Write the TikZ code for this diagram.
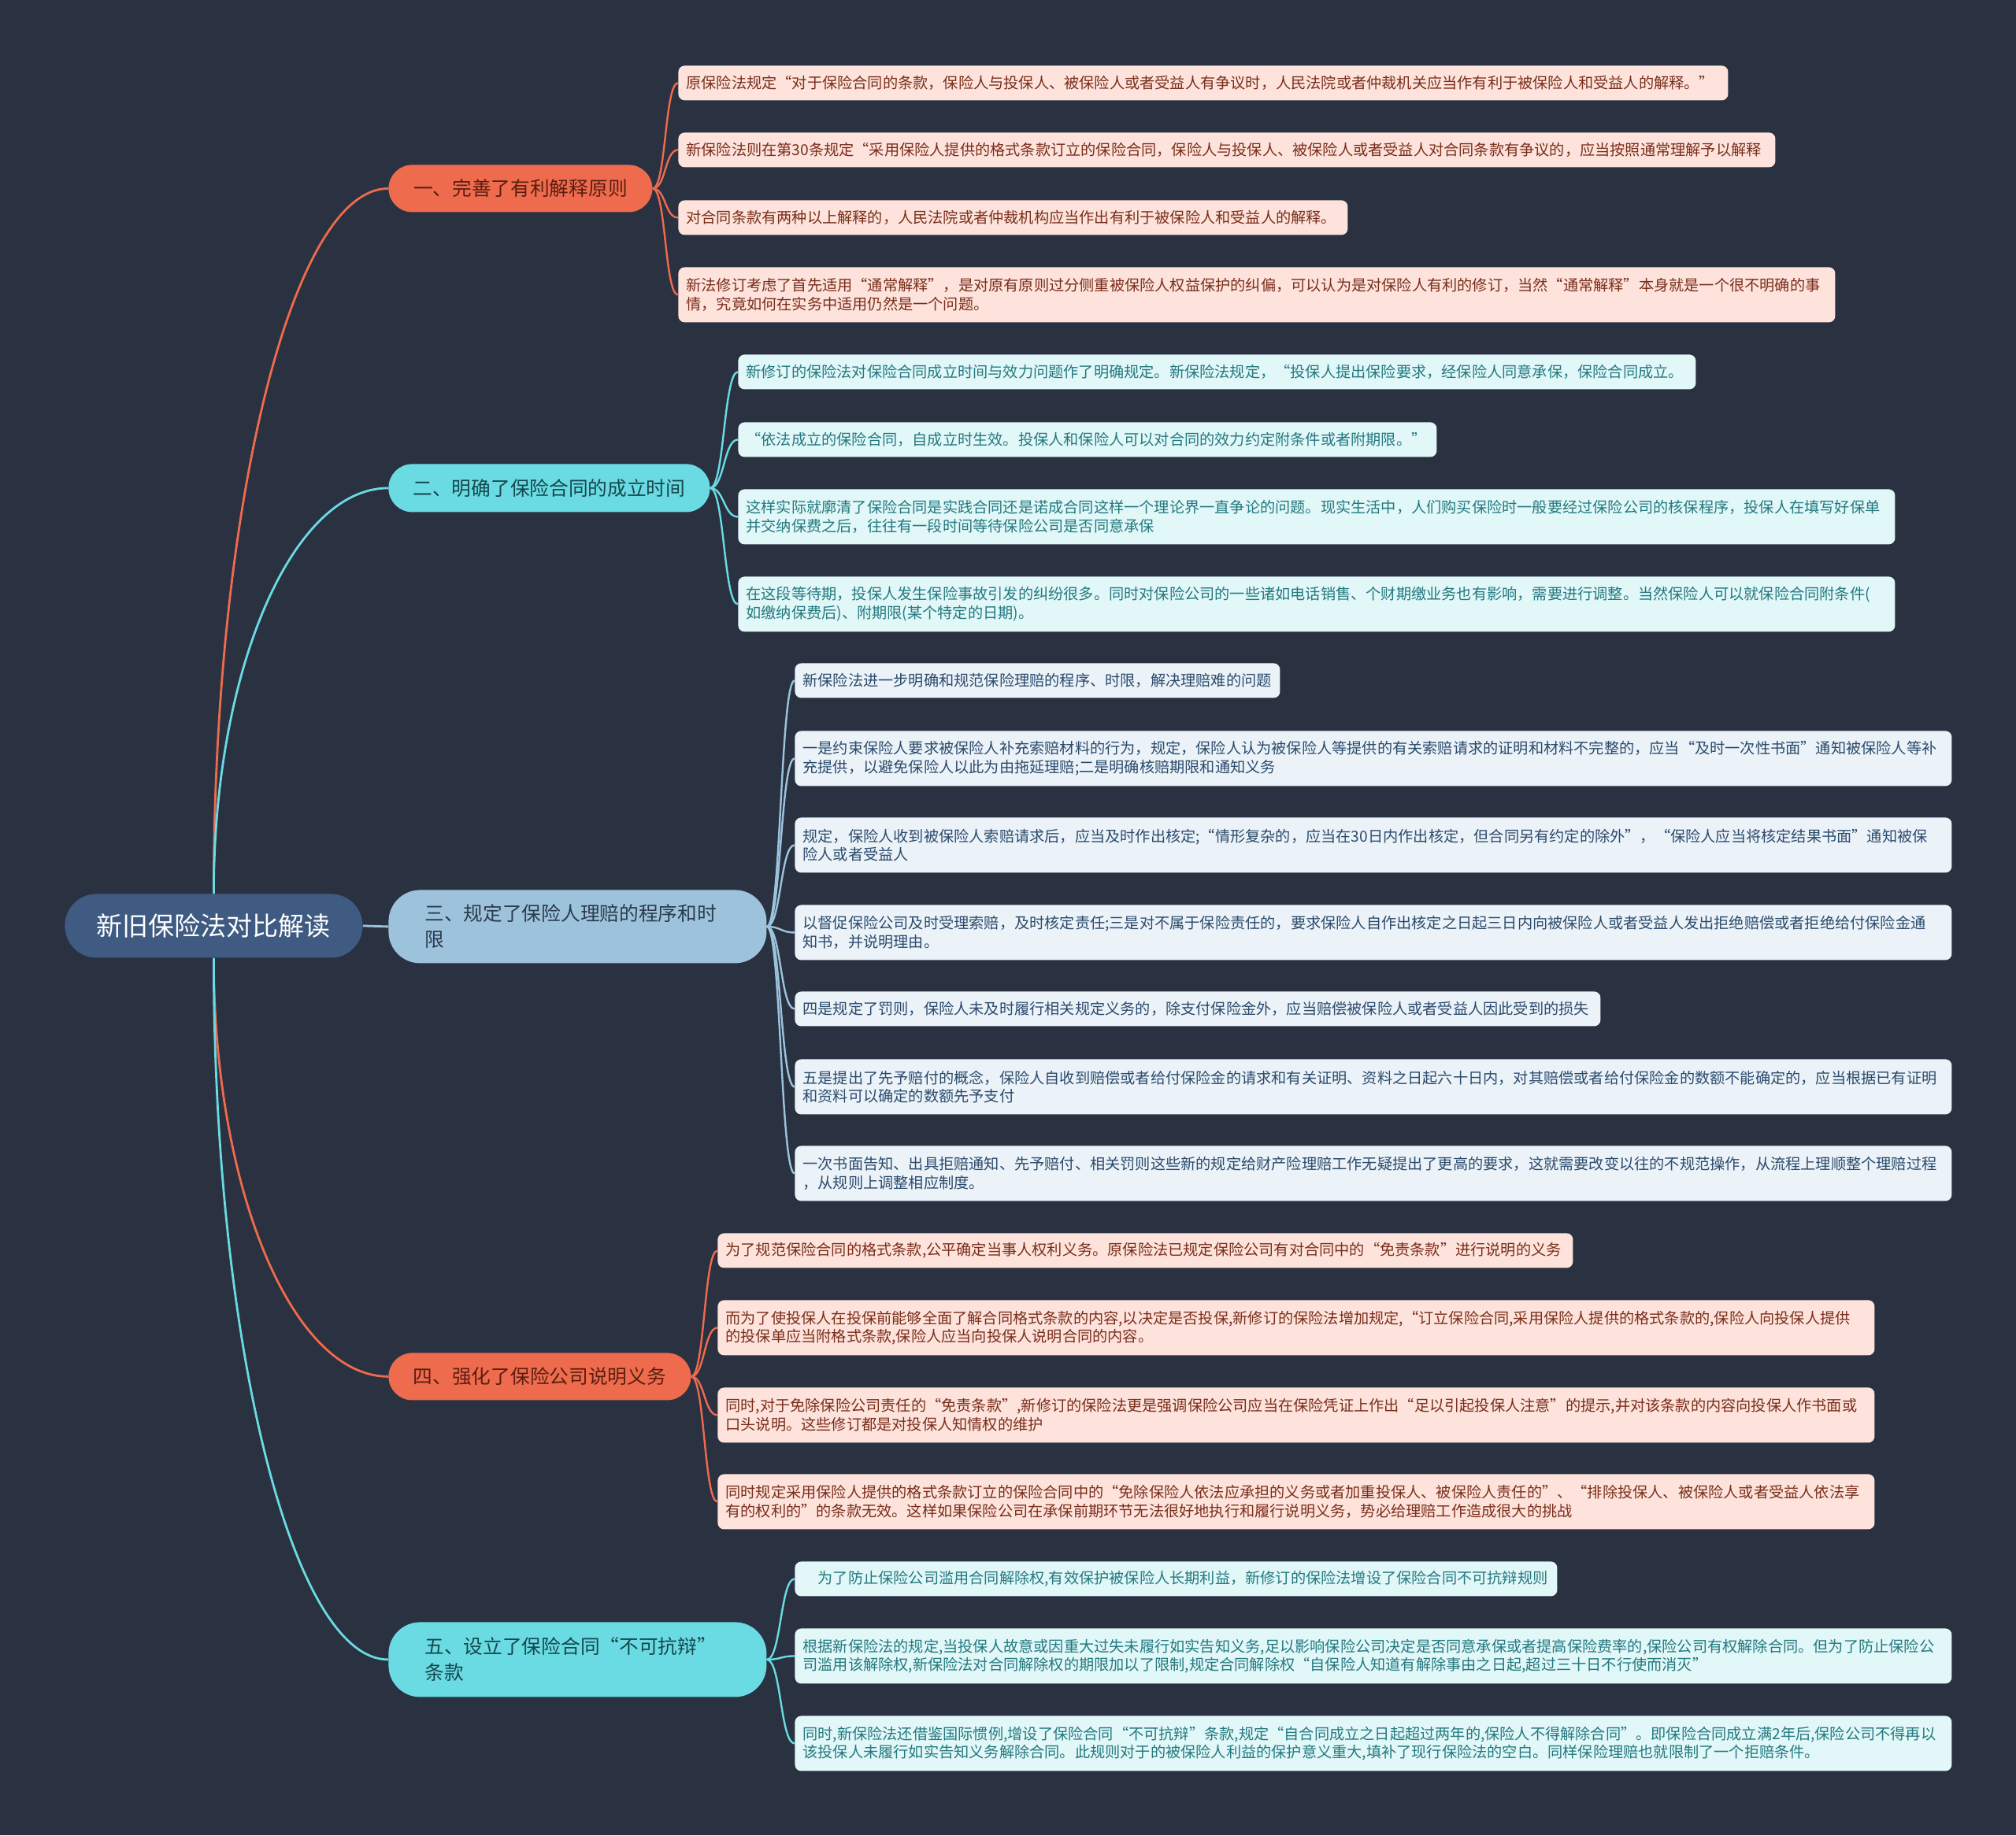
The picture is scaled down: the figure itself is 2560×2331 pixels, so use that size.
\documentclass[tikz,border=0pt]{standalone}
\usepackage{fontspec}
\setmainfont{Noto Sans CJK SC}
\definecolor{bgc}{HTML}{2A3141}
\definecolor{rootc}{HTML}{3F5B82}
\definecolor{orgc}{HTML}{EE6B4D}
\definecolor{cyac}{HTML}{6ADBE2}
\definecolor{bluc}{HTML}{9DC3DC}
\definecolor{pinkf}{HTML}{FDE3DB}
\definecolor{pinkt}{HTML}{7A2D1B}
\definecolor{cyaf}{HTML}{E1F7F8}
\definecolor{cyat}{HTML}{23797F}
\definecolor{bluf}{HTML}{EBF3F9}
\definecolor{blut}{HTML}{2B4A6B}
\definecolor{orgt}{HTML}{5A1E10}
\definecolor{cyamt}{HTML}{16484E}
\definecolor{blumt}{HTML}{2A3B4C}
\begin{document}
\begin{tikzpicture}[x=0.5pt,y=-0.5pt,
  rootbox/.style={anchor=north west, fill=rootc, text=white, rounded corners=20pt,
    minimum width=189pt, minimum height=40.5pt, inner sep=0pt,
    font=\fontsize{16.5pt}{20pt}\selectfont},
  mainbox/.style={anchor=north west, rounded corners=15pt, inner sep=0pt,
    font=\fontsize{12.35pt}{16.5pt}\selectfont},
  mainbig/.style={anchor=north west, rounded corners=20pt, inner xsep=23pt, inner ysep=0pt,
    align=left, text width=194pt, minimum width=240pt,
    font=\fontsize{12.35pt}{16.5pt}\selectfont},
  leafbox/.style={anchor=north west, rounded corners=4pt, inner xsep=5pt, inner ysep=2pt,
    align=left, minimum height=22pt, font=\fontsize{9.6pt}{11.75pt}\selectfont},
  twol/.style={minimum height=35pt, text width=724.5pt},
  pinkleaf/.style={leafbox, fill=pinkf, text=pinkt},
  cyaleaf/.style={leafbox, fill=cyaf, text=cyat},
  bluleaf/.style={leafbox, fill=bluf, text=blut},
  conO/.style={draw=orgc, line width=1.4pt},
  conC/.style={draw=cyac, line width=1.4pt},
  conB/.style={draw=bluc, line width=1.4pt},
  subO/.style={draw=orgc, line width=1.2pt},
  subC/.style={draw=cyac, line width=1.2pt},
  subB/.style={draw=bluc, line width=1.2pt}
]
\fill[bgc] (0,0) rectangle (2560,2331);

% root
\node[rootbox] (root) at (82,1135) {新旧保险法对比解读};

% main nodes
\node[mainbox, fill=orgc, text=orgt, minimum width=167.5pt, minimum height=30pt] (m1) at (493,209) {一、完善了有利解释原则};
\node[mainbox, fill=cyac, text=cyamt, minimum width=204pt, minimum height=30.5pt] (m2) at (493,589) {二、明确了保险合同的成立时间};
\node[mainbig, fill=bluc, text=blumt, minimum height=46.5pt] (m3) at (493,1130) {三、规定了保险人理赔的程序和时\\限};
\node[mainbox, fill=orgc, text=orgt, minimum width=192pt, minimum height=30pt] (m4) at (493,1718) {四、强化了保险公司说明义务};
\node[mainbig, fill=cyac, text=cyamt, minimum height=47.5pt] (m5) at (493,2060) {五、设立了保险合同“不可抗辩”\\条款};

% section 1 leaves
\node[pinkleaf, text width=656.5pt] (l1a) at (861,83) {原保险法规定“对于保险合同的条款，保险人与投保人、被保险人或者受益人有争议时，人民法院或者仲裁机关应当作有利于被保险人和受益人的解释。”};
\node[pinkleaf, text width=686.5pt] (l1b) at (861,168) {新保险法则在第30条规定“采用保险人提供的格式条款订立的保险合同，保险人与投保人、被保险人或者受益人对合同条款有争议的，应当按照通常理解予以解释};
\node[pinkleaf, text width=415pt] (l1c) at (861,254) {对合同条款有两种以上解释的，人民法院或者仲裁机构应当作出有利于被保险人和受益人的解释。};
\node[pinkleaf, twol] (l1d) at (861,339) {新法修订考虑了首先适用“通常解释”，是对原有原则过分侧重被保险人权益保护的纠偏，可以认为是对保险人有利的修订，当然“通常解释”本身就是一个很不明确的事\\情，究竟如何在实务中适用仍然是一个问题。};

% section 2 leaves
\node[cyaleaf, text width=598pt] (l2a) at (937,450) {新修订的保险法对保险合同成立时间与效力问题作了明确规定。新保险法规定，“投保人提出保险要求，经保险人同意承保，保险合同成立。};
\node[cyaleaf, text width=433.5pt] (l2b) at (937,536) {“依法成立的保险合同，自成立时生效。投保人和保险人可以对合同的效力约定附条件或者附期限。”};
\node[cyaleaf, twol] (l2c) at (937,621) {这样实际就廓清了保险合同是实践合同还是诺成合同这样一个理论界一直争论的问题。现实生活中，人们购买保险时一般要经过保险公司的核保程序，投保人在填写好保单\\并交纳保费之后，往往有一段时间等待保险公司是否同意承保};
\node[cyaleaf, twol] (l2d) at (937,732) {在这段等待期，投保人发生保险事故引发的纠纷很多。同时对保险公司的一些诸如电话销售、个财期缴业务也有影响，需要进行调整。当然保险人可以就保险合同附条件(\\如缴纳保费后)、附期限(某个特定的日期)。};

% section 3 leaves
\node[bluleaf, text width=298pt] (l3a) at (1009,842) {新保险法进一步明确和规范保险理赔的程序、时限，解决理赔难的问题};
\node[bluleaf, twol] (l3b) at (1009,928) {一是约束保险人要求被保险人补充索赔材料的行为，规定，保险人认为被保险人等提供的有关索赔请求的证明和材料不完整的，应当“及时一次性书面”通知被保险人等补\\充提供，以避免保险人以此为由拖延理赔;二是明确核赔期限和通知义务};
\node[bluleaf, twol] (l3c) at (1009,1038) {规定，保险人收到被保险人索赔请求后，应当及时作出核定;“情形复杂的，应当在30日内作出核定，但合同另有约定的除外”，“保险人应当将核定结果书面”通知被保\\险人或者受益人};
\node[bluleaf, twol] (l3d) at (1009,1149) {以督促保险公司及时受理索赔，及时核定责任;三是对不属于保险责任的，要求保险人自作出核定之日起三日内向被保险人或者受益人发出拒绝赔偿或者拒绝给付保险金通\\知书，并说明理由。};
\node[bluleaf, text width=501.5pt] (l3e) at (1009,1259) {四是规定了罚则，保险人未及时履行相关规定义务的，除支付保险金外，应当赔偿被保险人或者受益人因此受到的损失};
\node[bluleaf, twol] (l3f) at (1009,1345) {五是提出了先予赔付的概念，保险人自收到赔偿或者给付保险金的请求和有关证明、资料之日起六十日内，对其赔偿或者给付保险金的数额不能确定的，应当根据已有证明\\和资料可以确定的数额先予支付};
\node[bluleaf, twol] (l3g) at (1009,1455) {一次书面告知、出具拒赔通知、先予赔付、相关罚则这些新的规定给财产险理赔工作无疑提出了更高的要求，这就需要改变以往的不规范操作，从流程上理顺整个理赔过程\\，从规则上调整相应制度。};

% section 4 leaves
\node[pinkleaf, text width=533pt] (l4a) at (911,1566) {为了规范保险合同的格式条款,公平确定当事人权利义务。原保险法已规定保险公司有对合同中的“免责条款”进行说明的义务};
\node[pinkleaf, twol] (l4b) at (911,1651) {而为了使投保人在投保前能够全面了解合同格式条款的内容,以决定是否投保,新修订的保险法增加规定,“订立保险合同,采用保险人提供的格式条款的,保险人向投保人提供\\的投保单应当附格式条款,保险人应当向投保人说明合同的内容。};
\node[pinkleaf, twol] (l4c) at (911,1762) {同时,对于免除保险公司责任的“免责条款”,新修订的保险法更是强调保险公司应当在保险凭证上作出“足以引起投保人注意”的提示,并对该条款的内容向投保人作书面或\\口头说明。这些修订都是对投保人知情权的维护};
\node[pinkleaf, twol] (l4d) at (911,1872) {同时规定采用保险人提供的格式条款订立的保险合同中的“免除保险人依法应承担的义务或者加重投保人、被保险人责任的”、“排除投保人、被保险人或者受益人依法享\\有的权利的”的条款无效。这样如果保险公司在承保前期环节无法很好地执行和履行说明义务，势必给理赔工作造成很大的挑战};

% section 5 leaves
\node[cyaleaf, text width=474pt] (l5a) at (1009,1983) {\hspace*{9.6pt}为了防止保险公司滥用合同解除权,有效保护被保险人长期利益，新修订的保险法增设了保险合同不可抗辩规则};
\node[cyaleaf, twol] (l5b) at (1009,2068) {根据新保险法的规定,当投保人故意或因重大过失未履行如实告知义务,足以影响保险公司决定是否同意承保或者提高保险费率的,保险公司有权解除合同。但为了防止保险公\\司滥用该解除权,新保险法对合同解除权的期限加以了限制,规定合同解除权“自保险人知道有解除事由之日起,超过三十日不行使而消灭”};
\node[cyaleaf, twol] (l5c) at (1009,2179) {同时,新保险法还借鉴国际惯例,增设了保险合同“不可抗辩”条款,规定“自合同成立之日起超过两年的,保险人不得解除合同”。即保险合同成立满2年后,保险公司不得再以\\该投保人未履行如实告知义务解除合同。此规则对于的被保险人利益的保护意义重大,填补了现行保险法的空白。同样保险理赔也就限制了一个拒赔条件。};

% root -> main connectors
\draw[conO] (root.north) .. controls +(0,-493) and +(-122,0) .. (m1.west);
\draw[conC] (root.north) .. controls +(0,-284) and +(-122,0) .. (m2.west);
\draw[conB] (root.east) -- (m3.west);
\draw[conO] (root.south) .. controls +(0,293) and +(-122,0) .. (m4.west);
\draw[conC] (root.south) .. controls +(0,490) and +(-122,0) .. (m5.west);

% main -> leaf connectors
\foreach \l in {l1a,l1b,l1c,l1d}
  \draw[subO] (m1.east) .. controls +(17,0) and +(-17,0) .. (\l.west);
\foreach \l in {l2a,l2b,l2c,l2d}
  \draw[subC] (m2.east) .. controls +(18,0) and +(-18,0) .. (\l.west);
\foreach \l in {l3a,l3b,l3c,l3d,l3e,l3f,l3g}
  \draw[subB] (m3.east) .. controls +(18,0) and +(-18,0) .. (\l.west);
\foreach \l in {l4a,l4b,l4c,l4d}
  \draw[subO] (m4.east) .. controls +(17,0) and +(-17,0) .. (\l.west);
\foreach \l in {l5a,l5b,l5c}
  \draw[subC] (m5.east) .. controls +(18,0) and +(-18,0) .. (\l.west);
\end{tikzpicture}
\end{document}
